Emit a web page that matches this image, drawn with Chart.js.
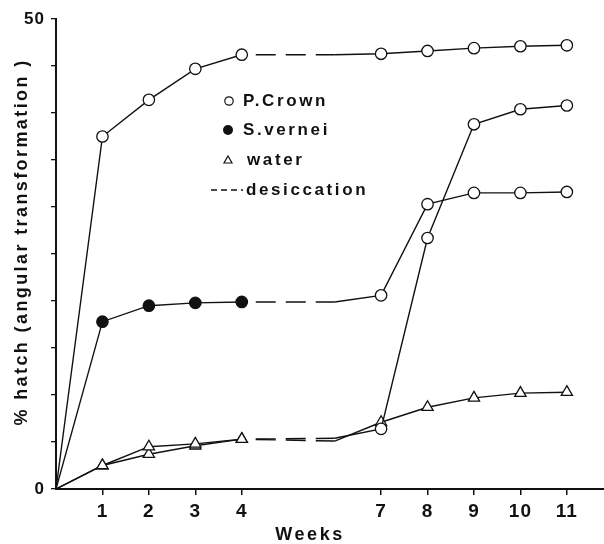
<!DOCTYPE html>
<html>
<head>
<meta charset="utf-8">
<script src="https://cdn.jsdelivr.net/npm/chart.js@4.4.0/dist/chart.umd.min.js"></script>
<style>
    html, body { margin: 0; padding: 0; background: #ffffff; overflow: hidden; }
    #wrap { width: 604px; height: 544px; position: relative; }
    canvas { display: block; }
</style>
</head>
<body>
<div id="wrap"><canvas id="hatchChart"></canvas></div>
<script>
// weeks sampled (week 6 = end of desiccation, no marker)
const WEEKS = [0, 1, 2, 3, 4, 6, 7, 8, 9, 10, 11];
const WEEK_LABELS = [1, 2, 3, 4, 7, 8, 9, 10, 11];
const Y_TICKS = [0, 5, 10, 15, 20, 25, 30, 35, 40, 45, 50];

const PCROWN = [0, 37.5, 41.4, 44.7, 46.2, 46.2, 46.3, 46.6, 46.9, 47.1, 47.2];
const SVERNEI = [0, 17.8, 19.5, 19.8, 19.9, 19.9, 20.6, 30.3, 31.5, 31.5, 31.6];
const WATER_TO_PCROWN = [0, 2.5, 4.5, 4.8, 5.3, 5.4, 6.4, 26.7, 38.8, 40.4, 40.8];
const WATER = [0, 2.5, 3.7, 4.6, 5.3, 5.1, 7.1, 8.7, 9.7, 10.2, 10.3];

const FONT = '"Liberation Sans", Arial, sans-serif';

function toPoints(values) {
    let pts = [];
    for (let i = 0; i < WEEKS.length; i++) {
        pts.push({ x: WEEKS[i], y: values[i] });
    }
    return pts;
}

function radiusFor(week, r) {
    return (week === 0 || week === 6) ? 0 : r;
}

function makeDataset(values, styleFn, fillFn) {
    return {
        data: toPoints(values),
        borderColor: '#111',
        borderWidth: 1.4,
        tension: 0,
        pointStyle: WEEKS.map(styleFn),
        pointRadius: WEEKS.map(w => radiusFor(w, styleFn(w) === 'triangle' ? 6.5 : 5.7)),
        pointBackgroundColor: WEEKS.map(fillFn),
        pointBorderColor: '#111',
        pointBorderWidth: 1.3,
        segment: {
            borderDash: c => (c.p0.parsed.x === 4 ? [20, 10] : undefined),
            borderDashOffset: c => (c.p0.parsed.x === 4 ? -14 : 0)
        }
    };
}

const legendAndTitle = {
    id: 'legendAndTitle',
    beforeDraw(chart) {
        chart.ctx.letterSpacing = '1px';
    },
    afterDraw(chart) {
        let ctx = chart.ctx;
        ctx.save();
        ctx.fillStyle = '#111';
        ctx.strokeStyle = '#111';
        ctx.textBaseline = 'middle';
        ctx.textAlign = 'left';
        ctx.font = 'bold 17px ' + FONT;
        ctx.letterSpacing = '2.6px';

        // legend
        ctx.lineWidth = 1.2;
        ctx.beginPath();
        ctx.arc(229, 101, 4.2, 0, Math.PI * 2);
        ctx.stroke();
        ctx.fillText('P.Crown', 243, 101);

        ctx.beginPath();
        ctx.arc(228, 130, 5, 0, Math.PI * 2);
        ctx.fill();
        ctx.fillText('S.vernei', 243, 130);

        ctx.beginPath();
        ctx.moveTo(228, 156);
        ctx.lineTo(232, 163);
        ctx.lineTo(224, 163);
        ctx.closePath();
        ctx.stroke();
        ctx.fillText('water', 247, 160);

        ctx.lineWidth = 1.4;
        ctx.setLineDash([6, 4]);
        ctx.beginPath();
        ctx.moveTo(211, 190);
        ctx.lineTo(243, 190);
        ctx.stroke();
        ctx.setLineDash([]);
        ctx.fillText('desiccation', 246, 190);

        // x title
        ctx.textAlign = 'center';
        ctx.font = 'bold 18px ' + FONT;
        ctx.fillText('Weeks', 310, 535);

        // y title
        ctx.translate(22, 242);
        ctx.rotate(-Math.PI / 2);
        ctx.letterSpacing = '2.4px';
        ctx.fillText('% hatch (angular transformation )', 0, 0);
        ctx.restore();
    }
};

function drawChart() {
    let canvas = document.getElementById('hatchChart');

    const config = {
        type: 'line',
        data: {
            datasets: [
                makeDataset(PCROWN, w => 'circle', w => '#fff'),
                makeDataset(SVERNEI, w => 'circle', w => (w <= 4 ? '#111' : '#fff')),
                makeDataset(WATER_TO_PCROWN, w => (w <= 4 ? 'triangle' : 'circle'), w => '#fff'),
                makeDataset(WATER, w => 'triangle', w => '#fff')
            ]
        },
        options: {
            responsive: true,
            maintainAspectRatio: false,
            animation: false,
            // autoPadding would keep ~8px free on the right for the markers
            layout: { autoPadding: false, padding: { top: 19, right: 0, left: 0, bottom: 0 } },
            plugins: {
                legend: { display: false },
                tooltip: { enabled: false }
            },
            scales: {
                x: {
                    type: 'linear',
                    min: 0,
                    max: 11.8,
                    afterBuildTicks: s => { s.ticks = WEEK_LABELS.map(v => ({ value: v })); },
                    afterFit: s => { s.height = 55; },
                    border: { color: '#111', width: 2 },
                    grid: { drawOnChartArea: false, tickLength: 6, color: '#111', lineWidth: 1.5 },
                    ticks: {
                        color: '#111',
                        padding: 5,
                        maxRotation: 0,
                        autoSkip: false,
                        font: { family: FONT, size: 19, weight: 'bold' }
                    }
                },
                y: {
                    min: 0,
                    max: 50,
                    afterBuildTicks: s => { s.ticks = Y_TICKS.map(v => ({ value: v })); },
                    afterFit: s => { s.width = 56; },
                    border: { color: '#111', width: 2 },
                    grid: { drawOnChartArea: false, tickLength: 5, color: '#111', lineWidth: 1.3 },
                    ticks: {
                        color: '#111',
                        padding: 6,
                        autoSkip: false,
                        callback: v => (v === 0 || v === 50 ? String(v) : ''),
                        font: { family: FONT, size: 17, weight: 'bold' }
                    }
                }
            }
        },
        plugins: [legendAndTitle]
    };

    return new Chart(canvas, config);
}

drawChart();
</script>
</body>
</html>
